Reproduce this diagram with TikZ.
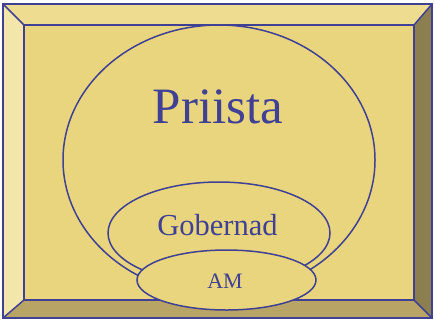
\documentclass[tikz,border=0pt]{standalone}
\usepackage{fontspec}
\setmainfont{Liberation Serif}
\definecolor{lineblue}{RGB}{64,64,148}
\definecolor{face}{RGB}{232,213,126}
\definecolor{bevL}{RGB}{243,230,170}
\definecolor{bevT}{RGB}{238,220,145}
\definecolor{bevR}{RGB}{140,127,79}
\definecolor{bevB}{RGB}{184,164,100}
\tikzset{
  edge/.style={draw=lineblue, line width=1.5bp, line join=miter},
  lbl/.style={text=lineblue, inner sep=0pt, anchor=base}
}
\begin{document}
\begin{tikzpicture}[x=1bp,y=-1bp]
\useasboundingbox (0,0) rectangle (434,320);
\coordinate (O1) at (3,4); \coordinate (O2) at (432,4);
\coordinate (O3) at (432,318); \coordinate (O4) at (3,318);
\coordinate (I1) at (24,25); \coordinate (I2) at (414,25);
\coordinate (I3) at (414,300); \coordinate (I4) at (24,300);
\fill[bevT] (O1) -- (O2) -- (I2) -- (I1) -- cycle;
\fill[bevL] (O1) -- (I1) -- (I4) -- (O4) -- cycle;
\fill[bevR] (O2) -- (O3) -- (I3) -- (I2) -- cycle;
\fill[bevB] (O4) -- (I4) -- (I3) -- (O3) -- cycle;
\fill[face] (I1) rectangle (I3);
\draw[edge] (O1) -- (I1) (O2) -- (I2) (O3) -- (I3) (O4) -- (I4);
\draw[edge] (O1) rectangle (O3);
\draw[edge] (I1) rectangle (I3);
\draw[edge] (219,160) ellipse [x radius=156, y radius=135];
\draw[edge, fill=face] (219,233) ellipse [x radius=111, y radius=51];
\draw[edge, fill=face] (226.5,280) ellipse [x radius=89.5, y radius=30];
\node[lbl, font=\fontsize{51bp}{55bp}\selectfont] (p) at (218,123) {Priista};
\node[lbl, font=\fontsize{30.5bp}{33bp}\selectfont] (g) at (217.5,235) {Gobernad};
\node[lbl, font=\fontsize{22bp}{24bp}\selectfont] (a) at (225,288) {AM};
\end{tikzpicture}
\end{document}
